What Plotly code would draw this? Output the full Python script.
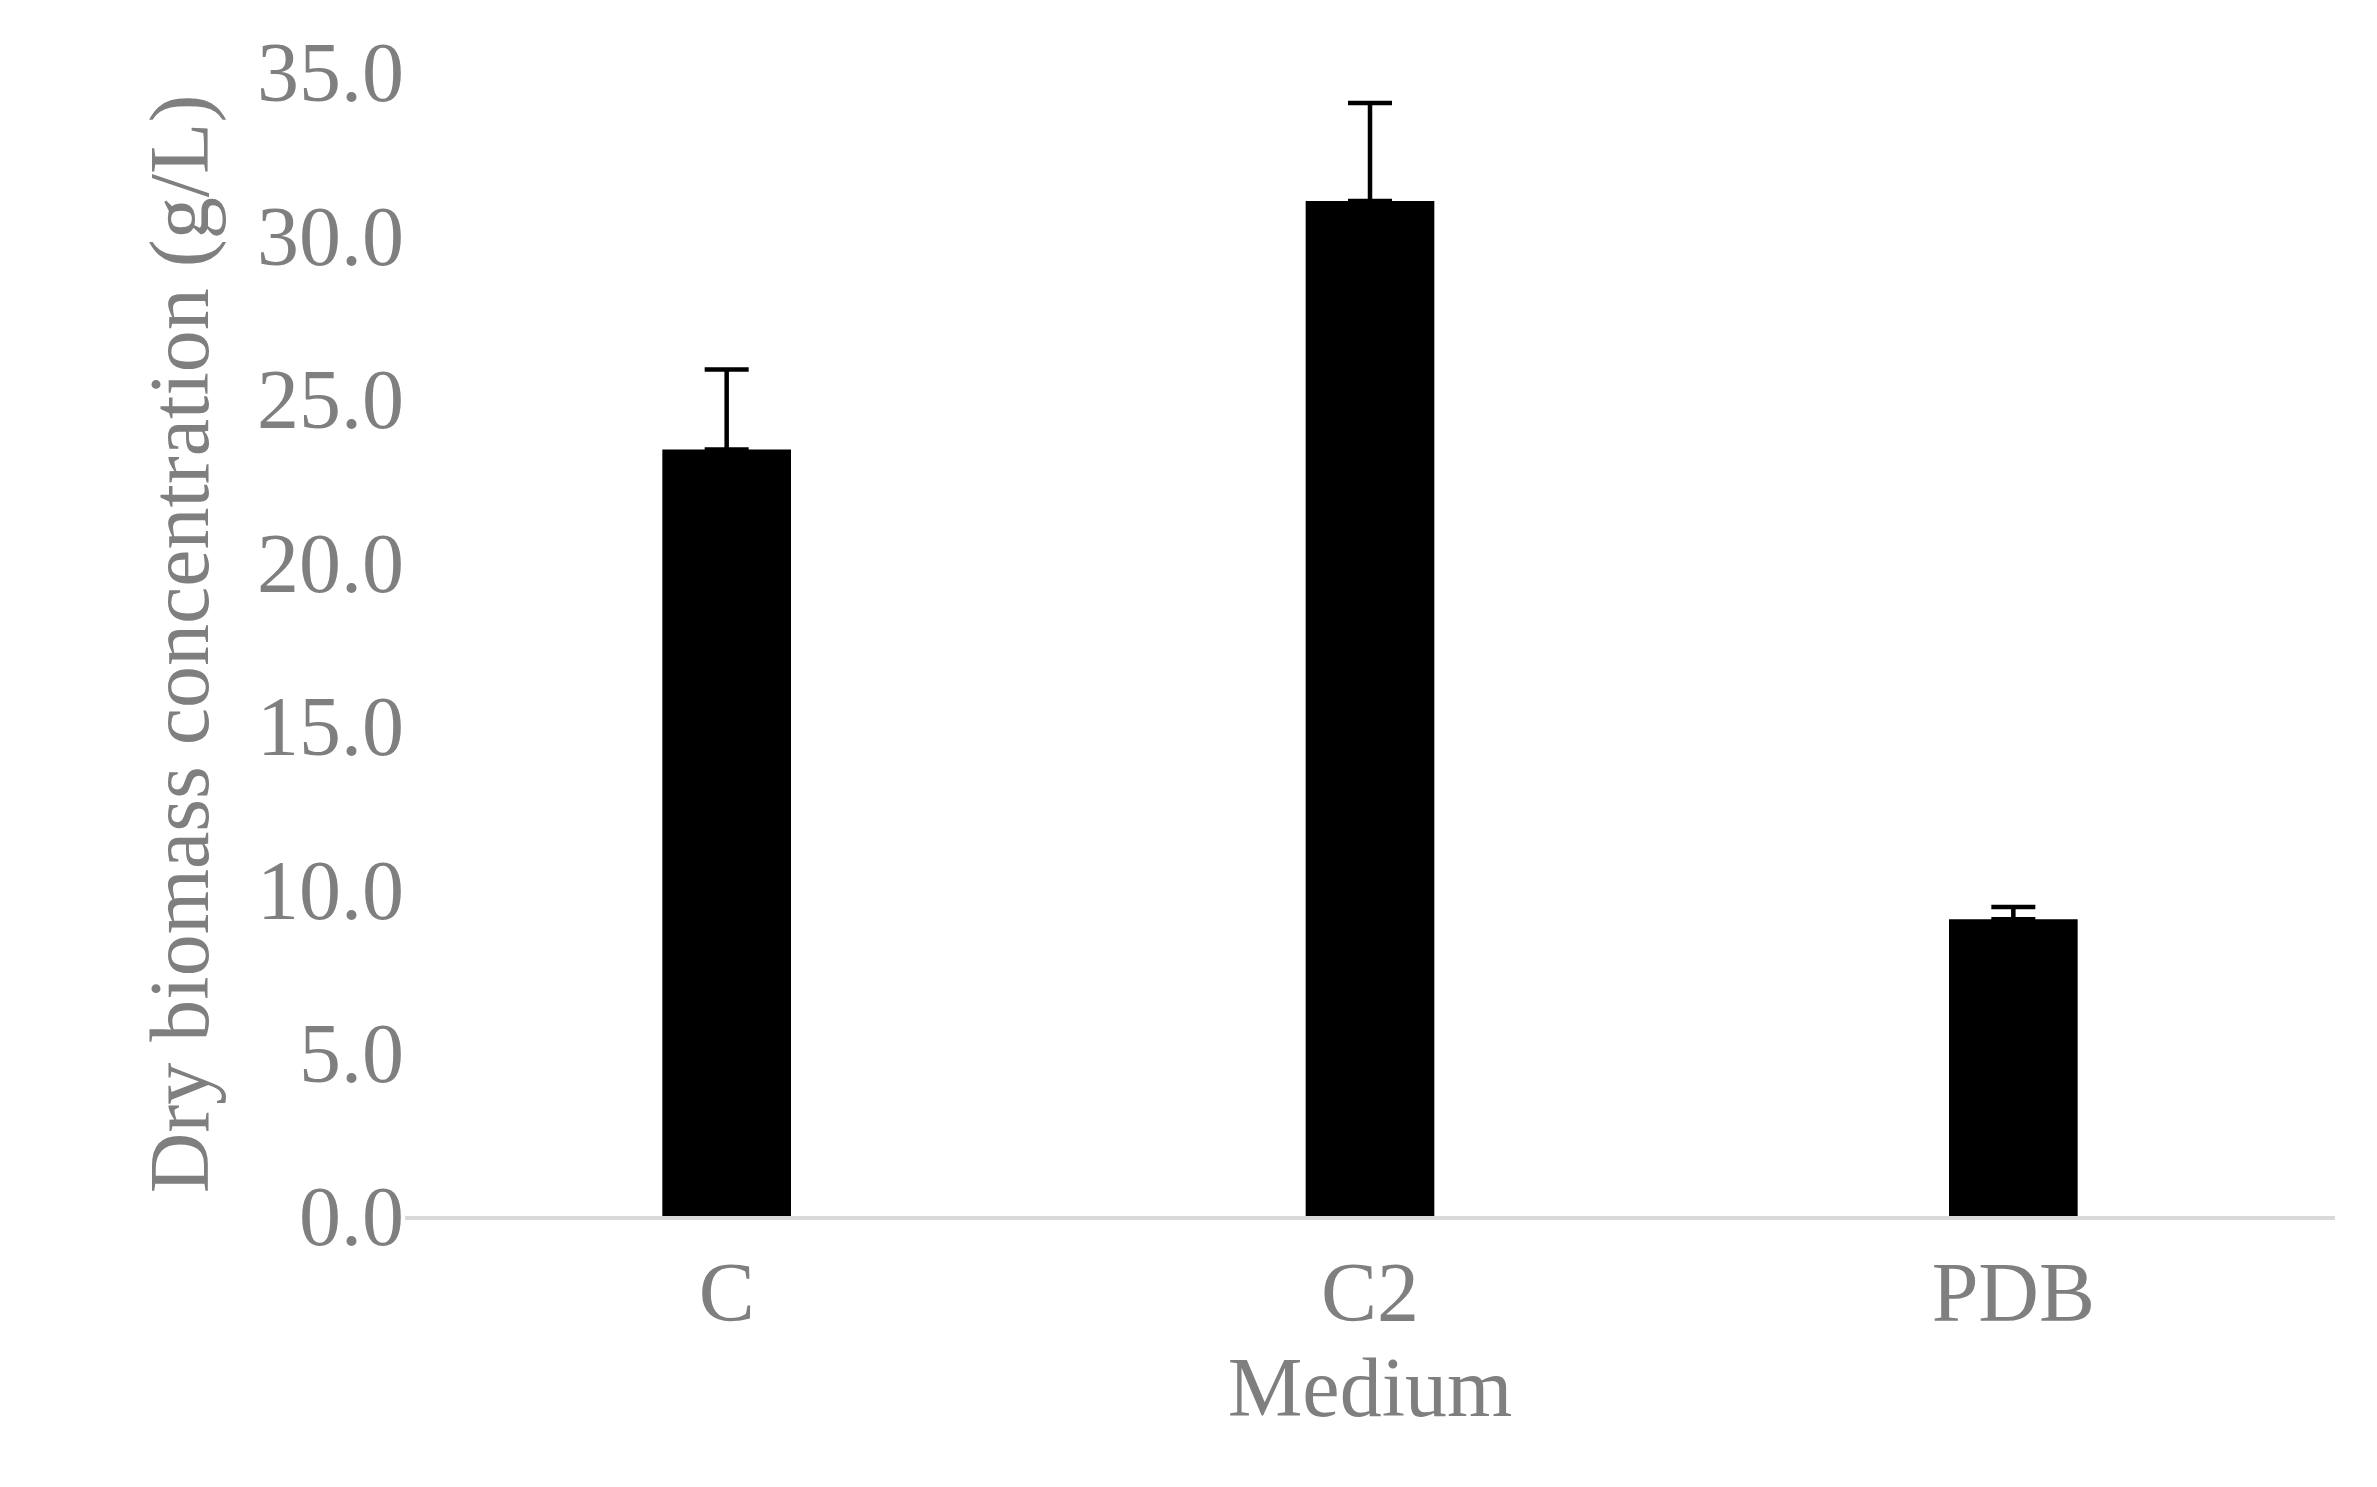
import plotly.graph_objects as go

categories = ["C", "C2", "PDB"]
values = [23.45, 31.05, 9.08]
errors = [2.45, 3.0, 0.37]
yticks = [0, 5, 10, 15, 20, 25, 30, 35]

fig = go.Figure(go.Bar(
    x=categories, y=values, width=0.2,
    marker=dict(color="black", line=dict(width=0)),
    error_y=dict(type="data", symmetric=False, array=errors,
                 arrayminus=[0]*len(errors), color="black", thickness=4.5, width=22),
))
font = dict(family="Liberation Serif, Times New Roman, serif", size=84, color="#7f7f7f")
fig.update_layout(
    width=2377, height=1487, plot_bgcolor="white", paper_bgcolor="white",
    margin=dict(l=397, r=50, t=64, b=279), showlegend=False, font=font,
    xaxis=dict(title=dict(text="Medium", font=font, standoff=20), showline=True,
               linecolor="#d9d9d9", linewidth=4, ticks="", showgrid=False, tickfont=font),
    yaxis=dict(title=dict(text="Dry biomass concentration (g/L)", font=font, standoff=20),
               range=[0, 35], tickvals=yticks, tickformat=".1f", showgrid=False,
               zeroline=False, showline=False, ticks="", tickfont=font),
)
fig.write_html("out.html")
